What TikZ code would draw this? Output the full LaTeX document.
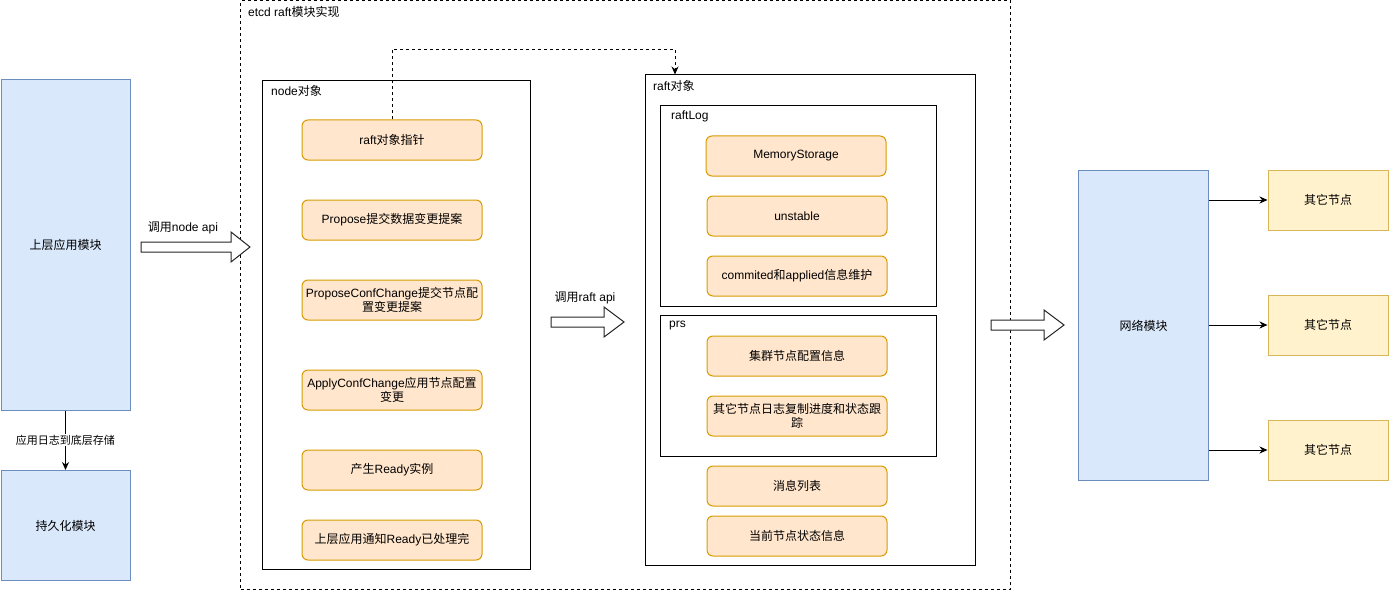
\documentclass[tikz,border=0pt]{standalone}
\usepackage{fontspec}
\setmainfont{Liberation Sans}
\newfontfamily\cjk{Noto Sans CJK SC}
\newcommand{\zh}[1]{{\cjk #1}}
\usetikzlibrary{arrows.meta}
\definecolor{ink}{RGB}{0,0,0}
\definecolor{modfill}{HTML}{DAE8FC}
\definecolor{moddraw}{HTML}{6C8EBF}
\definecolor{itemfill}{HTML}{FFE6CC}
\definecolor{itemdraw}{HTML}{D79B00}
\definecolor{peerfill}{HTML}{FFF2CC}
\definecolor{peerdraw}{HTML}{D6B656}
\tikzset{
    module/.style={
        rectangle,
        draw=moddraw,
        fill=modfill,
        line width=1pt,
        align=center,
        inner sep=0pt
    },
    peer/.style={
        rectangle,
        draw=peerdraw,
        fill=peerfill,
        line width=1pt,
        minimum width=120pt,
        minimum height=60pt,
        inner sep=0pt
    },
    container/.style={
        rectangle,
        draw=ink,
        line width=1pt,
        inner sep=0pt
    },
    item/.style={
        rectangle,
        rounded corners=6pt,
        draw=itemdraw,
        fill=itemfill,
        line width=1pt,
        minimum width=180pt,
        minimum height=40pt,
        align=center,
        inner sep=0pt
    },
    boxtitle/.style={
        anchor=west,
        inner sep=0pt
    },
    flowarrow/.style={
        -{Stealth[length=8pt,width=7pt]},
        draw=ink,
        line width=1pt
    },
    pointer/.style={
        flowarrow,
        dash pattern=on 3pt off 3pt
    },
    blockarrow/.style={
        draw=ink!85,
        fill=white,
        line width=1pt,
        line join=miter
    },
    annot/.style={
        font=\fontsize{11}{13}\selectfont,
        fill=white,
        inner sep=1pt
    }
}

\begin{document}
\begin{tikzpicture}[
    x=1pt, y=-1pt,
    every node/.style={font=\fontsize{12}{14}\selectfont}
]
\useasboundingbox (0,0) rectangle (1389,591);

% etcd raft frame
\node[container, dash pattern=on 3pt off 3pt, minimum width=770pt, minimum height=588pt] (frame) at (625.5,295) {};
\node[boxtitle] (frametitle) at (248,12) {etcd raft\zh{模块实现}};

% Left column
\node[module, minimum width=129pt, minimum height=330pt] (app) at (65.5,245) {\zh{上层应用模块}};
\node[module, minimum width=129pt, minimum height=110pt] (persist) at (65.5,525.5) {\zh{持久化模块}};
\draw[flowarrow] (app) -- node[annot] {\zh{应用日志到底层存储}} (persist);

% node object
\node[container, minimum width=268pt, minimum height=488pt] (nodeobj) at (396.5,325) {};
\node[boxtitle] (nodetitle) at (271,91) {node\zh{对象}};
\node[item] (ptr) at (392,140) {raft\zh{对象指针}};
\node[item] (propose) at (392,220) {Propose\zh{提交数据变更提案}};
\node[item] (confchg) at (392,300) {ProposeConfChange\zh{提交节点配}\\\zh{置变更提案}};
\node[item] (applyconf) at (392,390) {ApplyConfChange\zh{应用节点配置}\\\zh{变更}};
\node[item] (ready) at (392,470) {\zh{产生}Ready\zh{实例}};
\node[item] (advance) at (392,540) {\zh{上层应用通知}Ready\zh{已处理完}};

% raft object
\node[container, minimum width=330pt, minimum height=490pt] (raftobj) at (810.5,320) {};
\node[boxtitle] (rafttitle) at (653,86) {raft\zh{对象}};
\node[container, minimum width=276pt, minimum height=200pt] (raftlog) at (798,206) {};
\node[boxtitle] (logtitle) at (671,116) {raftLog};
\node[item] (memstore) at (796,156) {MemoryStorage};
\node[item] (unstable) at (797,216) {unstable};
\node[item] (commit) at (797,276) {commited\zh{和}applied\zh{信息维护}};
\node[container, minimum width=276pt, minimum height=141pt] (prs) at (798,385.5) {};
\node[boxtitle] (prstitle) at (669,326) {prs};
\node[item] (cluster) at (797,356) {\zh{集群节点配置信息}};
\node[item] (progress) at (797,416) {\zh{其它节点日志复制进度和状态跟}\\\zh{踪}};
\node[item] (msgs) at (797,486) {\zh{消息列表}};
\node[item] (state) at (797,536) {\zh{当前节点状态信息}};

\draw[pointer] (ptr.north) -- ++(0,-70) -| ([xshift=30pt]raftobj.north west);

% Block arrows
\coordinate (callnode) at (141,247);
\coordinate (callraft) at (551,322);
\coordinate (sendnet) at (991,325);
\draw[blockarrow] (callnode) ++(0,-5) -- ++(90,0) -- ++(0,-10) -- ++(19,15) -- ++(-19,15) -- ++(0,-10) -- ++(-90,0) -- cycle;
\draw[blockarrow] (callraft) ++(0,-5) -- ++(53,0) -- ++(0,-10) -- ++(20,15) -- ++(-20,15) -- ++(0,-10) -- ++(-53,0) -- cycle;
\draw[blockarrow] (sendnet) ++(0,-5) -- ++(53,0) -- ++(0,-10) -- ++(20,15) -- ++(-20,15) -- ++(0,-10) -- ++(-53,0) -- cycle;
\node (callnodelabel) at (183,228) {\zh{调用}node api};
\node (callraftlabel) at (585,298) {\zh{调用}raft api};

% Network side
\node[module, minimum width=130pt, minimum height=310pt] (net) at (1143.5,325.5) {\zh{网络模块}};
\node[peer] (peerA) at (1328,200) {\zh{其它节点}};
\node[peer] (peerB) at (1328,325) {\zh{其它节点}};
\node[peer] (peerC) at (1328,450) {\zh{其它节点}};
\foreach \p in {peerA,peerB,peerC}
    \draw[flowarrow] (net.east |- \p.west) -- (\p.west);

\end{tikzpicture}
\end{document}
